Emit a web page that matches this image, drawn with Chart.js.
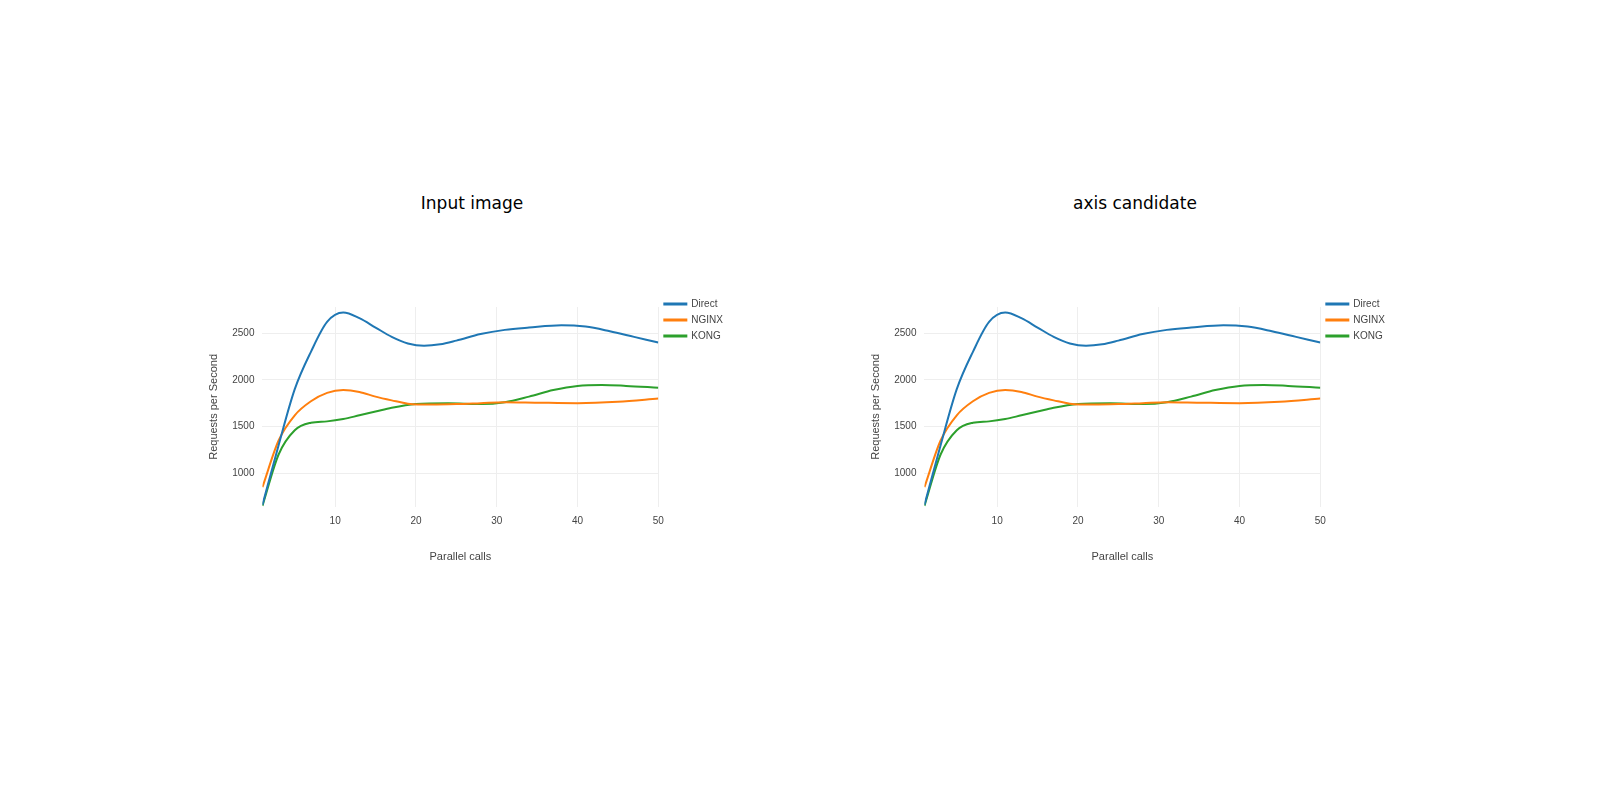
<!DOCTYPE html>
<html>
<head>
<meta charset="utf-8">
<script src="https://cdn.jsdelivr.net/npm/chart.js@4/dist/chart.umd.min.js"></script>
<style>
  body { margin: 0; width: 1600px; height: 800px; background: #fff; font-family: "DejaVu Sans", sans-serif; }
  .title { position: absolute; top: 193px; width: 400px; text-align: center; font-size: 17px; color: #000; }
  .box { position: absolute; top: 293px; width: 530px; height: 275px; }
</style>
</head>
<body>
<div class="title" style="left:272px">Input image</div>
<div class="title" style="left:935px">axis candidate</div>
<div class="box" style="left:203px"><canvas id="c1"></canvas></div>
<div class="box" style="left:865px"><canvas id="c2"></canvas></div>
<script>
const xDirect = [1, 3, 5, 7, 9, 11, 13, 15, 17, 19, 21, 23, 25, 28, 31, 34, 38, 41, 44, 47, 50];
const yDirect = [660, 1300, 1900, 2300, 2620, 2720, 2660, 2560, 2460, 2390, 2365, 2380, 2420, 2490, 2535, 2560, 2585, 2570, 2520, 2460, 2400];
const xNginx = [1, 3, 5, 7, 9, 11, 13, 15, 17, 19, 22, 25, 28, 31, 35, 40, 45, 50];
const yNginx = [850, 1350, 1620, 1770, 1860, 1890, 1870, 1820, 1780, 1745, 1735, 1740, 1750, 1760, 1755, 1750, 1765, 1800];
const xKong = [1, 3, 5, 7, 9, 11, 13, 15, 17, 20, 24, 28, 31, 34, 37, 40, 43, 46, 50];
const yKong = [650, 1200, 1460, 1540, 1555, 1580, 1620, 1660, 1700, 1740, 1750, 1740, 1760, 1820, 1890, 1935, 1945, 1935, 1915];
const xTicks = [10, 20, 30, 40, 50];
const yTicks = [1000, 1500, 2000, 2500];

const pts = (xs, ys) => xs.map((x, i) => ({ x, y: ys[i] }));

function makeChart(id) {
    const line = (label, data, color) => ({
        label, data, borderColor: color, backgroundColor: color,
        borderWidth: 2, pointRadius: 0, tension: 0.4, cubicInterpolationMode: 'monotone'
    });
    return new Chart(document.getElementById(id), {
        type: 'line',
        data: {
            datasets: [
                line('Direct', pts(xDirect, yDirect), '#1f77b4'),
                line('NGINX', pts(xNginx, yNginx), '#ff7f0e'),
                line('KONG', pts(xKong, yKong), '#2ca02c')
            ]
        },
        options: {
            responsive: true,
            maintainAspectRatio: false,
            animation: false,
            plugins: {
                legend: {
                    position: 'right', align: 'start',
                    labels: { boxWidth: 22, boxHeight: 1, font: { size: 10 }, color: '#444', padding: 6 }
                },
                tooltip: { enabled: false }
            },
            scales: {
                x: {
                    type: 'linear', min: 1, max: 50,
                    afterBuildTicks: axis => { axis.ticks = xTicks.map(v => ({ value: v })); },
                    grid: { color: '#eee', drawTicks: false },
                    border: { display: false },
                    ticks: { color: '#444', font: { size: 10 }, padding: 8, callback: v => String(v) },
                    title: { display: true, text: 'Parallel calls', color: '#444', font: { size: 11 }, padding: { top: 16 } }
                },
                y: {
                    min: 640, max: 2780,
                    afterBuildTicks: axis => { axis.ticks = yTicks.map(v => ({ value: v })); },
                    grid: { color: '#eee', drawTicks: false },
                    border: { display: false },
                    ticks: { color: '#444', font: { size: 10 }, padding: 8, callback: v => String(v) },
                    title: { display: true, text: 'Requests per Second', color: '#444', font: { size: 11 } }
                }
            }
        }
    });
}

makeChart('c1');
makeChart('c2');
</script>
</body>
</html>
